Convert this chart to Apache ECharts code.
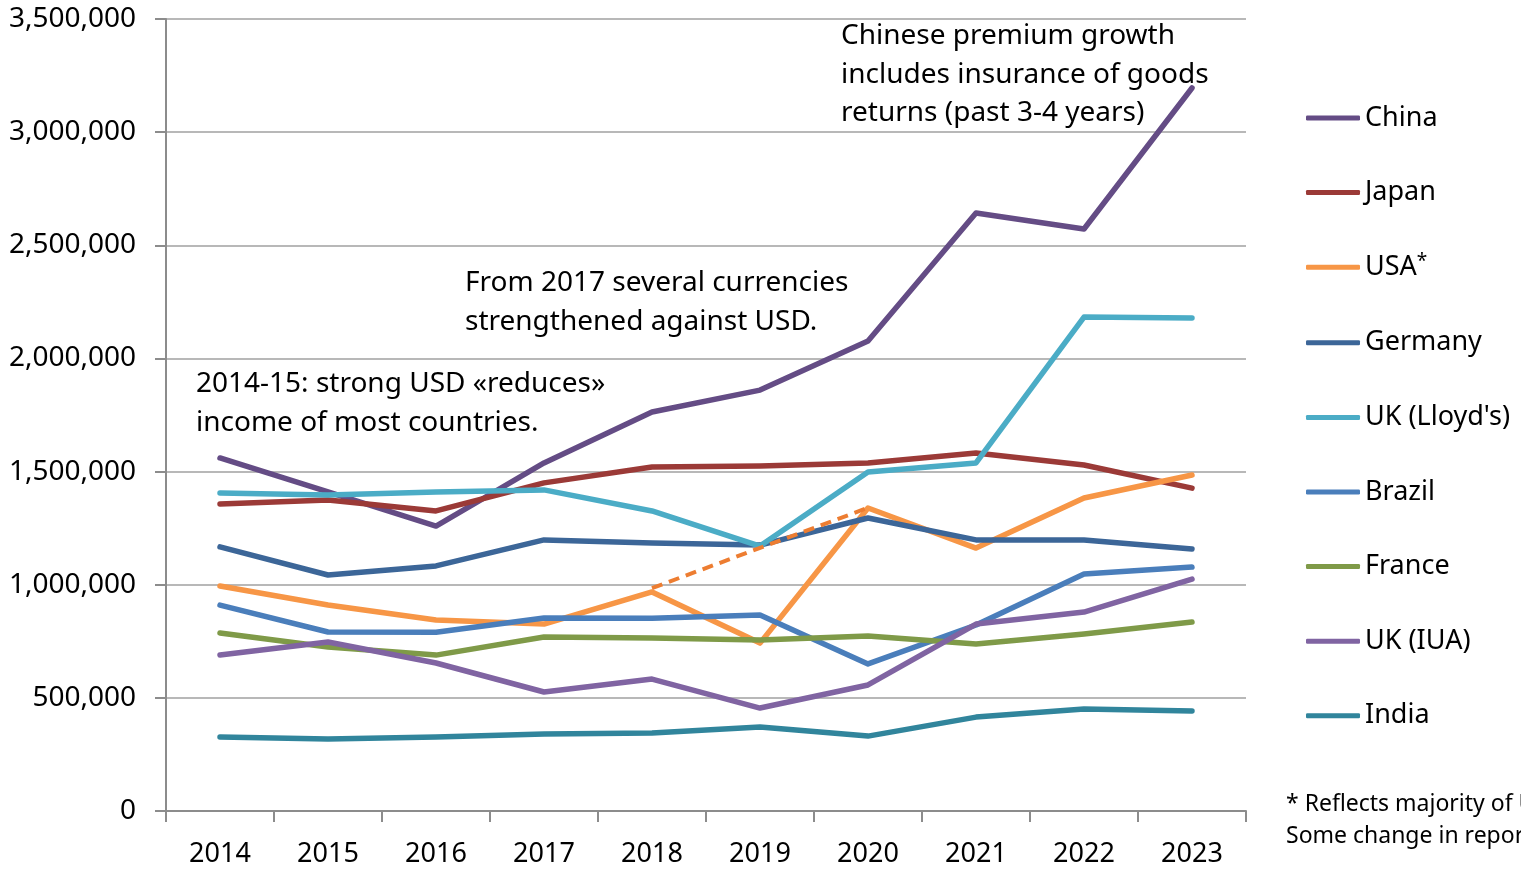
<!DOCTYPE html>
<html>
<head>
<meta charset="utf-8">
<script src="https://cdn.jsdelivr.net/npm/echarts@6/dist/echarts.min.js"></script>
<style>
html,body{margin:0;padding:0;background:#fff;}
#chart{width:1521px;height:871px;}
</style>
</head>
<body>
<div id="chart"></div>
<script>
const years = ['2014','2015','2016','2017','2018','2019','2020','2021','2022','2023'];
const china   = [1560000,1410000,1259000,1538000,1763000,1860000,2077000,2643000,2572000,3195000];
const japan   = [1357000,1374000,1326000,1450000,1520000,1525000,1538000,1582000,1529000,1427000];
const usa     = [994000,910000,844000,826000,968000,742000,1339000,1162000,1383000,1485000];
const germany = [1167000,1043000,1083000,1198000,1184000,1175000,1295000,1198000,1198000,1158000];
const lloyds  = [1405000,1396000,1410000,1419000,1326000,1171000,1498000,1538000,2183000,2179000];
const brazil  = [910000,791000,790000,853000,852000,866000,650000,822000,1047000,1078000];
const france  = [787000,725000,689000,769000,765000,756000,773000,738000,782000,835000];
const iua     = [689000,747000,654000,526000,583000,455000,557000,826000,879000,1025000];
const india   = [327000,318000,327000,340000,345000,371000,331000,415000,451000,442000];
const usaTrend = [null,null,null,null,985000,null,1340000,null,null,null];

const names  = ['China','Japan','USA','Germany',"UK (Lloyd's)",'Brazil','France','UK (IUA)','India'];
const values = [china,japan,usa,germany,lloyds,brazil,france,iua,india];
const colors = ['#644C85','#9B3A37','#F79646','#3C6698','#4BACC6','#4A7EBB','#7F9A48','#8064A2','#31859C'];

const FONT = '"Noto Sans", sans-serif';

const series = names.map((n,i)=>({
  name:n, type:'line', data:values[i], symbol:'none',
  lineStyle:{width:5.5,color:colors[i],cap:'round',join:'round'},
  itemStyle:{color:colors[i]}, z:3
}));
series.push({
  name:'USA trend', type:'line', data:usaTrend, connectNulls:true, symbol:'none',
  lineStyle:{width:4,color:'#ED7D31',type:[11,7]}, itemStyle:{color:'#ED7D31'}, z:4
});

const chart = echarts.init(document.getElementById('chart'));
chart.setOption({
  animation:false,
  backgroundColor:'#fff',
  grid:{left:166,right:275,top:19,bottom:60,containLabel:false},
  xAxis:{
    type:'category', data:years, boundaryGap:true,
    axisLine:{lineStyle:{color:'#8C8C8C',width:2}},
    axisTick:{show:true,length:11,lineStyle:{color:'#8C8C8C',width:2},alignWithLabel:false},
    axisLabel:{color:'#000',fontSize:27,fontFamily:FONT,margin:30}
  },
  yAxis:{
    type:'value', min:0, max:3500000, interval:500000,
    axisLine:{show:true,lineStyle:{color:'#8C8C8C',width:2}},
    axisTick:{show:true,length:11,lineStyle:{color:'#8C8C8C',width:2}},
    splitLine:{lineStyle:{color:'#A0A0A0',width:1.5}},
    axisLabel:{color:'#000',fontSize:28,fontFamily:FONT,margin:30,
      formatter:v=>v.toLocaleString('en-US')}
  },
  legend:{
    data:names, orient:'vertical', left:1301, top:98,
    itemWidth:54, itemHeight:5, itemGap:44.6, icon:'roundRect',
    textStyle:{color:'#000',fontSize:27,fontFamily:FONT,lineHeight:30,padding:[0,0,0,0],
      rich:{s:{fontSize:19,fontFamily:FONT,verticalAlign:'top',lineHeight:14,padding:[0,0,12,0]}}},
    formatter:n=> n==='USA' ? 'USA{s|*}' : n,
    selectedMode:false
  },
  graphic:[
    {type:'text',left:841,top:17,style:{text:'Chinese premium growth\nincludes insurance of goods\nreturns (past 3-4 years)',font:'28px '+FONT,fill:'#000',lineHeight:38.5}},
    {type:'text',left:465,top:264,style:{text:'From 2017 several currencies\nstrengthened against USD.',font:'28px '+FONT,fill:'#000',lineHeight:38.5}},
    {type:'text',left:196,top:365,style:{text:'2014-15: strong USD «reduces»\nincome of most countries.',font:'28px '+FONT,fill:'#000',lineHeight:38.5}},
    {type:'text',left:1286,top:788,style:{text:'* Reflects majority of US market.\nSome change in reporting.',font:'23px '+FONT,fill:'#000',lineHeight:32}}
  ],
  series:series
});
</script>
</body>
</html>
